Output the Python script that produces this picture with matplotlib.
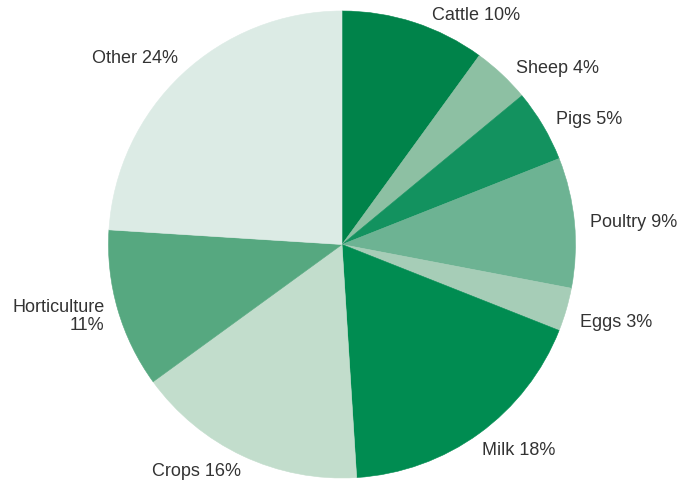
import numpy as np
import matplotlib
matplotlib.use("Agg")
import matplotlib.pyplot as plt

categories = ["Cattle", "Sheep", "Pigs", "Poultry", "Eggs", "Milk", "Crops", "Horticulture", "Other"]
shares = [10, 4, 5, 9, 3, 18, 16, 11, 24]
colors = ["#00834a", "#8dc0a3", "#13925f", "#6db393", "#a6cdb7",
          "#008c51", "#c2ddcc", "#56a880", "#dcebe5"]

# label nudges in pixels (dx right, dy down) relative to the default pie label anchor
nudges = [(11, 14), (-2, 10), (-7, 5), (-8, 1), (-9, 5), (-11, -3), (8, -6), (9, -1), (12, 0)]

plt.rcParams["font.family"] = ["Liberation Sans", "DejaVu Sans"]

W, H, DPI = 680, 485, 100
fig = plt.figure(figsize=(W / DPI, H / DPI), dpi=DPI)
ax = fig.add_axes([0, 0, 1, 1])

cx, cy, R = 342, 245.5, 233.5  # pixel centre / radius

wedges, _ = ax.pie(shares, colors=colors, startangle=90, counterclock=False,
                   radius=1.0, center=(0, 0), frame=True,
                   wedgeprops=dict(linewidth=0.4, antialiased=True))
for w, c in zip(wedges, colors):
    w.set_edgecolor(c)
ax.set_aspect("auto")
ax.set_xlim(-cx / R, (W - cx) / R)
ax.set_ylim(-(H - cy) / R, cy / R)
ax.axis("off")

label_dist = 1.1
for w, name, val, (ndx, ndy) in zip(wedges, categories, shares, nudges):
    mid = np.deg2rad((w.theta1 + w.theta2) / 2)
    x, y = label_dist * np.cos(mid), label_dist * np.sin(mid)
    ha = "left" if x > 0 else "right"
    if name == "Horticulture":
        txt = f"{name}\n{val}%"
    else:
        txt = f"{name} {val}%"
    ax.annotate(txt, (x, y), xytext=(ndx * 72 / DPI, -ndy * 72 / DPI),
                textcoords="offset points", ha=ha, va="center",
                multialignment="right", fontsize=13, color="#333333",
                linespacing=1.1)

fig.savefig("out.png", dpi=DPI)
